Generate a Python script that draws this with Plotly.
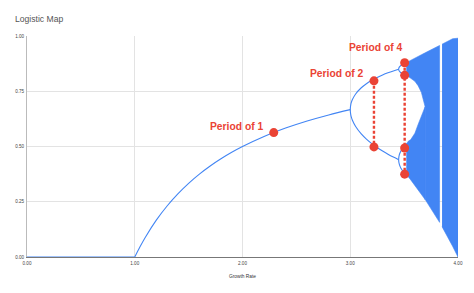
import plotly.graph_objects as go

# ---- data ----
# period-1 (fixed point) branch
r_flat = [0.0, 1.0]
y_flat = [0.0, 0.0]
r_p1 = [1.0, 1.05, 1.1, 1.2, 1.3, 1.4, 1.5, 1.6, 1.7, 1.8, 1.9, 2.0, 2.2, 2.4, 2.6, 2.8, 3.0]
y_p1 = [0.0, 0.0476, 0.0909, 0.1667, 0.2308, 0.2857, 0.3333, 0.375, 0.4118, 0.4444, 0.4737,
        0.5, 0.5455, 0.5833, 0.6154, 0.6429, 0.6667]

# period-2 branches
r_p2 = [3.0, 3.005, 3.01, 3.02, 3.05, 3.1, 3.15, 3.2, 3.25, 3.3, 3.35, 3.4, 3.449]
y_p2_hi = [0.6667, 0.6899, 0.6994, 0.7125, 0.7377, 0.7646, 0.7840, 0.7995, 0.8124, 0.8236, 0.8334, 0.8421, 0.8499]
y_p2_lo = [0.6667, 0.6428, 0.6329, 0.6186, 0.5902, 0.5580, 0.5335, 0.5130, 0.4952, 0.4794, 0.4651, 0.4520, 0.4401]

# period-4 branches
r_p4 = [3.449, 3.455, 3.47, 3.5, 3.52, 3.53]
y_p4_a = [0.8499, 0.8590, 0.8663, 0.8750, 0.8795, 0.8815]
y_p4_b = [0.8499, 0.8420, 0.8340, 0.8269, 0.8235, 0.8220]
y_p4_c = [0.4401, 0.4620, 0.4800, 0.5009, 0.5100, 0.5155]
y_p4_d = [0.4401, 0.4200, 0.4020, 0.3828, 0.3740, 0.3695]

# chaotic region envelope (before the period-3 window)
chaos_r = [3.52, 3.54, 3.56, 3.6, 3.63, 3.66, 3.695, 3.7, 3.75, 3.8, 3.829]
chaos_top = [0.8795, 0.885, 0.89, 0.9, 0.9075, 0.915, 0.9238, 0.925, 0.9375, 0.95, 0.9573]
chaos_bot = [0.374, 0.362, 0.35, 0.324, 0.3047, 0.2847, 0.260, 0.2567, 0.2197, 0.1805, 0.1567]
# white gap between the two chaotic bands
gap_r = [3.52, 3.54, 3.56, 3.6, 3.63, 3.66, 3.695]
gap_top = [0.8235, 0.818, 0.81, 0.795, 0.775, 0.745, 0.68]
gap_bot = [0.51, 0.525, 0.53, 0.56, 0.60, 0.64, 0.68]
# chaotic region after the period-3 window
chaos2_r = [3.852, 3.9, 3.95, 4.0]
chaos2_top = [0.963, 0.975, 0.9875, 0.99]
chaos2_bot = [0.1373, 0.0951, 0.0488, 0.0]

# highlighted points
p1_r, p1_y = [2.29], [0.563]
p2_r, p2_y = [3.22, 3.22], [0.797, 0.498]
p4_r, p4_y = [3.505, 3.505, 3.505, 3.505], [0.879, 0.822, 0.493, 0.375]

x_ticks = [0, 1, 2, 3, 4]
x_labels = ["0.00", "1.00", "2.00", "3.00", "4.00"]
y_ticks = [0, 0.25, 0.5, 0.75, 1.0]
y_labels = ["0.00", "0.25", "0.50", "0.75", "1.00"]

BLUE = "#4285F4"
RED = "#EA4335"
FONT = "Liberation Sans, Arial, sans-serif"

fig = go.Figure()

def line(x, y, shape="spline"):
    fig.add_trace(go.Scatter(x=x, y=y, mode="lines", line=dict(color=BLUE, width=1.1, shape=shape),
                             hoverinfo="skip", showlegend=False))

line(r_flat, y_flat, "linear")
line(r_p1, y_p1)
line(r_p2[::-1] + r_p2[1:], y_p2_hi[::-1] + y_p2_lo[1:])
line(r_p4[::-1] + r_p4[1:], y_p4_a[::-1] + y_p4_b[1:])
line(r_p4[::-1] + r_p4[1:], y_p4_c[::-1] + y_p4_d[1:])

def poly(x, y):
    fig.add_trace(go.Scatter(x=x, y=y, mode="lines", fill="toself", fillcolor=BLUE,
                             line=dict(color=BLUE, width=0.6), hoverinfo="skip", showlegend=False))

n = len(gap_r)
m = len(chaos_r) - n + 1
# upper band + merged band
upper_x = chaos_r + chaos_r[::-1][:m] + gap_r[::-1]
upper_y = chaos_top + chaos_bot[::-1][:m] + gap_top[::-1]
poly(upper_x, upper_y)
# lower band
poly(gap_r + gap_r[::-1], gap_bot + chaos_bot[:n][::-1])
# after window
poly(chaos2_r + chaos2_r[::-1], chaos2_top + chaos2_bot[::-1])

# dotted connectors
fig.add_trace(go.Scatter(x=p2_r, y=p2_y, mode="lines", line=dict(color=RED, width=2.4, dash="3px,2px"),
                         hoverinfo="skip", showlegend=False))
fig.add_trace(go.Scatter(x=[p4_r[0], p4_r[-1]], y=[p4_y[0], p4_y[-1]], mode="lines",
                         line=dict(color=RED, width=2.4, dash="3px,2px"), hoverinfo="skip", showlegend=False))
for xs, ys in [(p1_r, p1_y), (p2_r, p2_y), (p4_r, p4_y)]:
    fig.add_trace(go.Scatter(x=xs, y=ys, mode="markers", marker=dict(color=RED, size=9),
                             hoverinfo="skip", showlegend=False))

ann_font = dict(family=FONT, size=10.3, color=RED, weight="bold")
fig.add_annotation(x=2.208, y=0.591, text="Period of 1", showarrow=False, xanchor="right", yanchor="middle", font=ann_font)
fig.add_annotation(x=3.134, y=0.831, text="Period of 2", showarrow=False, xanchor="right", yanchor="middle", font=ann_font)
fig.add_annotation(x=3.236, y=0.949, text="Period of 4", showarrow=False, xanchor="center", yanchor="middle", font=ann_font)
fig.add_annotation(x=0.5, y=-0.086, xref="paper", yref="paper", text="Growth Rate", showarrow=False,
                   xanchor="center", yanchor="middle", font=dict(family=FONT, size=4.8, color="#333"))

fig.update_layout(
    width=474, height=293,
    margin=dict(l=27, r=16, t=36, b=36),
    paper_bgcolor="white", plot_bgcolor="white",
    title=dict(text="Logistic Map", x=15 / 474, xanchor="left", y=1 - 19 / 293, yanchor="middle",
               font=dict(family=FONT, size=8.6, color="#555")),
    xaxis=dict(range=[0, 4], tickvals=x_ticks, ticktext=x_labels, showgrid=True, gridcolor="#e3e3e3",
               gridwidth=1, zeroline=False, showline=True, linecolor="#777", linewidth=1, ticks="",
               tickfont=dict(family=FONT, size=4.6, color="#444"), layer="below traces",
               ticklabelstandoff=1, fixedrange=True),
    yaxis=dict(range=[0, 1], tickvals=y_ticks, ticktext=y_labels, showgrid=True, gridcolor="#e3e3e3",
               gridwidth=1, zeroline=False, showline=True, linecolor="#bbb", linewidth=1, ticks="",
               tickfont=dict(family=FONT, size=4.6, color="#444"), layer="below traces",
               ticklabelstandoff=1, fixedrange=True),
    showlegend=False,
)

fig.write_html("out.html")
